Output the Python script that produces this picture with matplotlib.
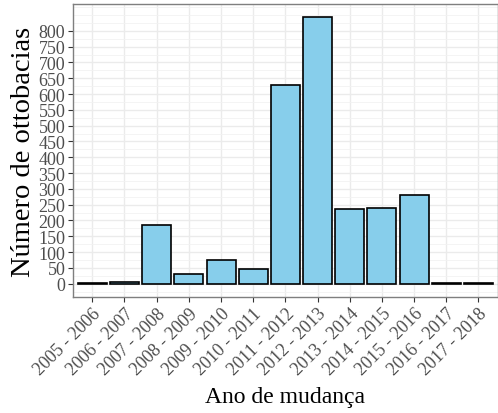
import matplotlib
matplotlib.use("Agg")
import matplotlib.pyplot as plt
from matplotlib.ticker import FixedLocator, MultipleLocator

categories = ["2005 - 2006", "2006 - 2007", "2007 - 2008", "2008 - 2009", "2009 - 2010",
              "2010 - 2011", "2011 - 2012", "2012 - 2013", "2013 - 2014", "2014 - 2015",
              "2015 - 2016", "2016 - 2017", "2017 - 2018"]
values = [1, 5, 187, 32, 76, 48, 630, 843, 237, 240, 282, 2, 2]
y_ticks = list(range(0, 801, 50))

plt.rcParams['font.family'] = ['Liberation Serif', 'DejaVu Serif']

fig = plt.figure(figsize=(4.98, 4.14), dpi=100)
ax = fig.add_axes([0.1466, 0.2802, 0.853, 0.708])

x = list(range(len(categories)))
ax.bar(x, values, width=0.9, color='#87CEEB', edgecolor='black', linewidth=1.2, zorder=3)

ax.set_xlim(-0.6, len(categories) - 0.4)
ymax = max(values)
ax.set_ylim(-0.05 * ymax, ymax * 1.05)
ax.yaxis.set_major_locator(FixedLocator(y_ticks))
ax.yaxis.set_minor_locator(MultipleLocator(25))
ax.set_xticks(x)
ax.set_xticklabels(categories, rotation=45, ha='right', rotation_mode='anchor')

ax.grid(True, which='major', color='#ebebeb', linewidth=1.0, zorder=0)
ax.grid(True, which='minor', axis='y', color='#f2f2f2', linewidth=0.6, zorder=0)
ax.set_axisbelow(True)
for s in ax.spines.values():
    s.set_color('#7f7f7f')
    s.set_linewidth(1.0)

ax.tick_params(axis='both', which='major', colors='#333333', labelcolor='#4d4d4d',
               labelsize=13, length=3.5, width=0.8)
ax.tick_params(axis='y', which='minor', length=0)
ax.tick_params(axis='y', pad=2)
ax.tick_params(axis='x', pad=2)
for lbl in ax.get_yticklabels():
    lbl.set_verticalalignment('center_baseline')

ax.set_ylabel('Número de ottobacias', fontsize=20.5, labelpad=2)
ax.set_xlabel('Ano de mudança', fontsize=17)
ax.xaxis.set_label_coords(0.5, -0.305)

fig.savefig('out.png', dpi=100)
